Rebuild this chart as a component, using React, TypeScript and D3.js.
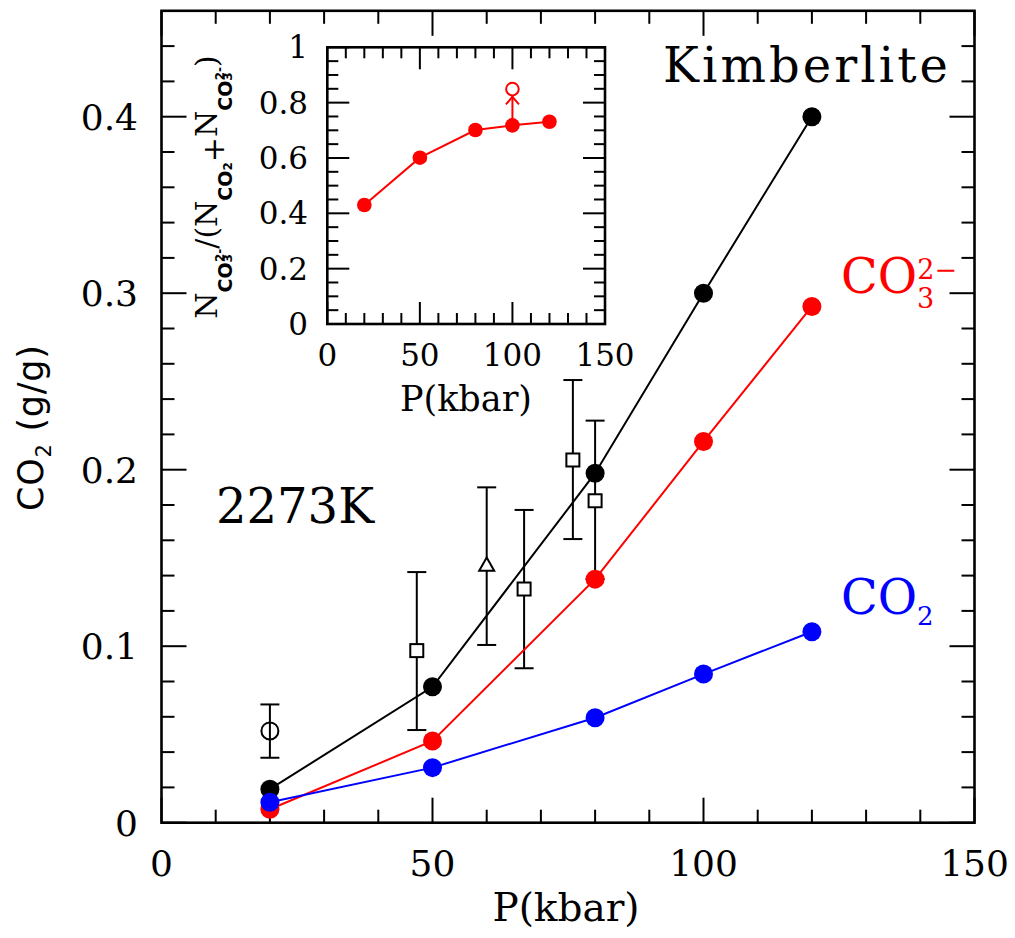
import React from "react";
import * as d3 from "d3";

// Computed CO2 solubility in kimberlite melt at 2273 K
const pressures = [20, 50, 80, 100, 120];
const totalCO2 = [0.019, 0.077, 0.198, 0.3, 0.4];
const carbonateCO2 = [0.0076, 0.0463, 0.138, 0.216, 0.2925];
const molecularCO2 = [0.0116, 0.0312, 0.0595, 0.0842, 0.1082];

// Experimental measurements (value with lower / upper error bounds)
const expCircle = [{ p: 20, v: 0.052, lo: 0.0368, hi: 0.067 }];
const expSquares = [
  { p: 47.1, v: 0.0975, lo: 0.0525, hi: 0.142 },
  { p: 66.9, v: 0.1324, lo: 0.0875, hi: 0.1772 },
  { p: 75.9, v: 0.2055, lo: 0.1607, hi: 0.2508 },
  { p: 80, v: 0.1824, lo: 0.138, hi: 0.2278 },
];
const expTriangles = [{ p: 60, v: 0.146, lo: 0.1007, hi: 0.19 }];

// Inset: carbonate fraction of dissolved carbon
const carbonateFraction = [0.43, 0.601, 0.701, 0.718, 0.731];
const lowerBound = { p: 100, v: 0.849 };

// Axis ticks
const xMajorTicks = [0, 50, 100, 150];
const xTickLabels = ["0", "50", "100", "150"];
const yMajorTicks = [0, 0.1, 0.2, 0.3, 0.4];
const yTickLabels = ["0", "0.1", "0.2", "0.3", "0.4"];
const insetYMajorTicks = [0, 0.2, 0.4, 0.6, 0.8, 1];
const insetYTickLabels = ["0", "0.2", "0.4", "0.6", "0.8", "1"];

const W = 1015;
const H = 938;
const SERIF = "'DejaVu Serif', serif";
const SANS = "'DejaVu Sans', sans-serif";

type Lin = d3.ScaleLinear<number, number>;

function Frame(props: {
  x: Lin;
  y: Lin;
  xMinor: number[];
  yMinor: number[];
  xMajor: number[];
  yMajor: number[];
  majorLen: number;
  minorLen: number;
  fill?: string;
}) {
  const { x, y, xMinor, yMinor, xMajor, yMajor, majorLen, minorLen } = props;
  const [x0, x1] = x.range();
  const [y0, y1] = y.range();
  const isMajor = (arr: number[], v: number) => arr.some((m) => Math.abs(m - v) < 1e-9);
  const segs: JSX.Element[] = [];
  xMinor.forEach((t, i) => {
    const len = isMajor(xMajor, t) ? majorLen : minorLen;
    const px = x(t);
    segs.push(<line key={"xb" + i} x1={px} x2={px} y1={y0} y2={y0 - len} />);
    segs.push(<line key={"xt" + i} x1={px} x2={px} y1={y1} y2={y1 + len} />);
  });
  yMinor.forEach((t, i) => {
    const len = isMajor(yMajor, t) ? majorLen : minorLen;
    const py = y(t);
    segs.push(<line key={"yl" + i} x1={x0} x2={x0 + len} y1={py} y2={py} />);
    segs.push(<line key={"yr" + i} x1={x1} x2={x1 - len} y1={py} y2={py} />);
  });
  return (
    <g>
      <rect x={x0} y={y1} width={x1 - x0} height={y0 - y1} fill={props.fill ?? "none"} stroke="#000" strokeWidth={2.6} />
      <g stroke="#000" strokeWidth={2}>{segs}</g>
    </g>
  );
}

function Series(props: { x: Lin; y: Lin; xs: number[]; ys: number[]; color: string; r: number }) {
  const { x, y, xs, ys, color, r } = props;
  const pts = xs.map((p, i) => [p, ys[i]] as [number, number]);
  const line = d3
    .line<[number, number]>()
    .x((d) => x(d[0]))
    .y((d) => y(d[1]));
  return (
    <g>
      <path d={line(pts) ?? ""} fill="none" stroke={color} strokeWidth={2} />
      {pts.map((d, i) => (
        <circle key={i} cx={x(d[0])} cy={y(d[1])} r={r} fill={color} />
      ))}
    </g>
  );
}

function ErrorBar(props: { x: Lin; y: Lin; p: number; lo: number; hi: number }) {
  const { x, y, p, lo, hi } = props;
  const px = x(p);
  const cap = 9.5;
  return (
    <g stroke="#000" strokeWidth={2}>
      <line x1={px} x2={px} y1={y(lo)} y2={y(hi)} />
      <line x1={px - cap} x2={px + cap} y1={y(lo)} y2={y(lo)} />
      <line x1={px - cap} x2={px + cap} y1={y(hi)} y2={y(hi)} />
    </g>
  );
}

export default function App() {
  // main panel scales
  const x = d3.scaleLinear().domain([0, 150]).range([161.5, 974.5]);
  const y = d3.scaleLinear().domain([0, 0.46]).range([822.7, 10.8]);
  // inset scales
  const ix = d3.scaleLinear().domain([0, 150]).range([327.3, 605]);
  const iy = d3.scaleLinear().domain([0, 1]).range([324, 47.3]);

  const xMinor = d3.range(0, 151, 10);
  const yMinor = d3.range(0, 23).map((i) => +(i * 0.02).toFixed(2));
  const iyMinor = d3.range(0, 21).map((i) => +(i * 0.05).toFixed(2));

  const bx = ix(lowerBound.p);
  const byPoint = iy(carbonateFraction[pressures.indexOf(lowerBound.p)]);
  const byOpen = iy(lowerBound.v);
  const openR = 6.3;

  const subCO = { fontFamily: SANS, fontWeight: "bold" as const, fontSize: 19 };
  const subTiny = { fontFamily: SANS, fontWeight: "bold" as const, fontSize: 12 };

  return (
    <svg
      width={W}
      height={H}
      style={{ position: "absolute", left: 0, top: 0, background: "#fff" }}
      xmlns="http://www.w3.org/2000/svg"
    >
      <rect width={W} height={H} fill="#fff" />

      {/* main panel */}
      <Frame x={x} y={y} xMinor={xMinor} yMinor={yMinor} xMajor={xMajorTicks} yMajor={yMajorTicks} majorLen={25} minorLen={13} />

      <g fontFamily={SERIF} fontSize={36} fill="#000">
        {yMajorTicks.map((t, i) => (
          <text key={i} x={138} y={y(t)} dy="0.36em" textAnchor="end">
            {yTickLabels[i]}
          </text>
        ))}
        {xMajorTicks.map((t, i) => (
          <text key={i} x={x(t)} y={876} textAnchor="middle">
            {xTickLabels[i]}
          </text>
        ))}
        <text x={566} y={921} textAnchor="middle" fontSize={39}>P(kbar)</text>
      </g>

      <text
        transform="translate(43,428) rotate(-90)"
        textAnchor="middle"
        fontFamily={SANS}
        fontSize={35}
        fill="#000"
        textLength={166}
        lengthAdjust="spacing"
      >
        CO<tspan fontSize={21} dy={8}>2</tspan>
        <tspan dy={-8}> (g/g)</tspan>
      </text>

      {/* experimental data */}
      {[...expCircle, ...expSquares, ...expTriangles].map((d, i) => (
        <ErrorBar key={i} x={x} y={y} p={d.p} lo={d.lo} hi={d.hi} />
      ))}
      {expCircle.map((d, i) => (
        <circle key={i} cx={x(d.p)} cy={y(d.v)} r={8.5} fill="none" stroke="#000" strokeWidth={2} />
      ))}
      {expSquares.map((d, i) => (
        <rect key={i} x={x(d.p) - 6.5} y={y(d.v) - 6.5} width={13} height={13} fill="#fff" stroke="#000" strokeWidth={2} />
      ))}
      {expTriangles.map((d, i) => {
        const cx = x(d.p);
        const cy = y(d.v);
        const s = 7.5;
        return (
          <path
            key={i}
            d={`M${cx},${cy - s} L${cx + s},${cy + s * 0.75} L${cx - s},${cy + s * 0.75} Z`}
            fill="#fff"
            stroke="#000"
            strokeWidth={2}
          />
        );
      })}

      {/* computed curves */}
      <Series x={x} y={y} xs={pressures} ys={carbonateCO2} color="#ff0000" r={9.5} />
      <Series x={x} y={y} xs={pressures} ys={totalCO2} color="#000000" r={9.5} />
      <Series x={x} y={y} xs={pressures} ys={molecularCO2} color="#0000ff" r={9.5} />

      <g fontFamily={SERIF} fontSize={48}>
        <text x={663} y={82} fill="#000" textLength={285} lengthAdjust="spacing">Kimberlite</text>
        <text x={216} y={523} fill="#000">2273K</text>
        <text x={841} y={293} fill="#ff0000">
          CO<tspan fontSize={27} dy={15}>3</tspan>
          <tspan fontSize={27} dx={-17} dy={-29}>2−</tspan>
        </text>
        <text x={841} y={614} fill="#0000ff">
          CO<tspan fontSize={26} dy={11}>2</tspan>
        </text>
      </g>

      {/* inset */}
      <Frame
        x={ix}
        y={iy}
        xMinor={xMinor}
        yMinor={iyMinor}
        xMajor={xMajorTicks}
        yMajor={insetYMajorTicks}
        majorLen={22}
        minorLen={11}
        fill="#fff"
      />
      <g fontFamily={SERIF} fontSize={31} fill="#000">
        {insetYMajorTicks.map((t, i) => (
          <text key={i} x={308} y={iy(t)} dy="0.36em" textAnchor="end">
            {insetYTickLabels[i]}
          </text>
        ))}
        {xMajorTicks.map((t, i) => (
          <text key={i} x={ix(t)} y={366} textAnchor="middle">
            {xTickLabels[i]}
          </text>
        ))}
        <text x={466} y={411} textAnchor="middle" fontSize={35}>P(kbar)</text>
      </g>
      <text transform="translate(217,187) rotate(-90)" textAnchor="middle" fontFamily={SERIF} fontSize={30} fill="#000">
        N
        <tspan {...subCO} dy={15}>CO</tspan>
        <tspan {...subTiny}>3</tspan>
        <tspan {...subTiny} dx={-8} dy={-8}>2-</tspan>
        <tspan dy={-7}>/(N</tspan>
        <tspan {...subCO} dy={15}>CO</tspan>
        <tspan {...subTiny}>2</tspan>
        <tspan dy={-8}>+</tspan>
        <tspan dy={-7}>N</tspan>
        <tspan {...subCO} dy={15}>CO</tspan>
        <tspan {...subTiny}>3</tspan>
        <tspan {...subTiny} dx={-8} dy={-8}>2-</tspan>
        <tspan dy={-7}>)</tspan>
      </text>

      <Series x={ix} y={iy} xs={pressures} ys={carbonateFraction} color="#ff0000" r={7.3} />
      <g stroke="#ff0000" strokeWidth={2} fill="none">
        <line x1={bx} x2={bx} y1={byPoint} y2={byOpen + openR} />
        <path d={`M${bx - 6.5},${byOpen + openR + 9} L${bx},${byOpen + openR + 1.5} L${bx + 6.5},${byOpen + openR + 9}`} />
        <circle cx={bx} cy={byOpen} r={openR} />
      </g>
    </svg>
  );
}
